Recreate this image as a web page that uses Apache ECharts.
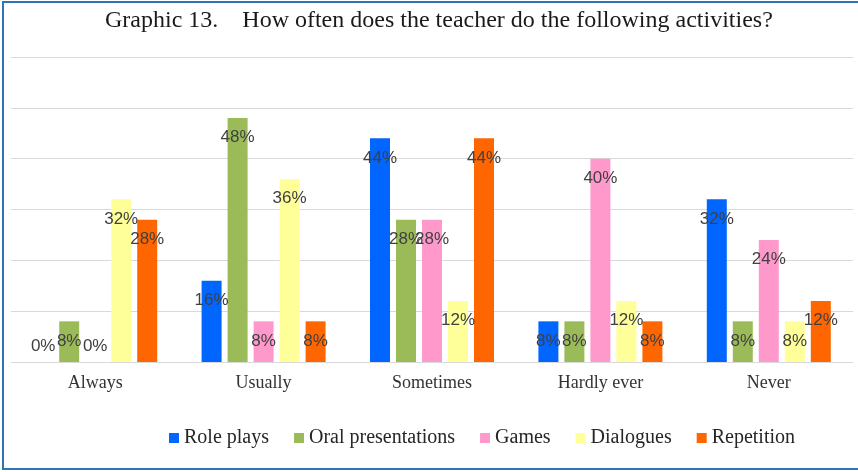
<!DOCTYPE html>
<html>
<head>
<meta charset="utf-8">
<script src="https://cdn.jsdelivr.net/npm/echarts@6/dist/echarts.min.js"></script>
<style>
  html, body { margin: 0; padding: 0; background: #fff; }
  #chart { width: 858px; height: 472px; }
</style>
</head>
<body>
<div id="chart"></div>
<script>
const categories = ['Always', 'Usually', 'Sometimes', 'Hardly ever', 'Never'];
const rolePlays = [0, 16, 44, 8, 32];
const oralPresentations = [8, 48, 28, 8, 8];
const games = [0, 8, 28, 40, 24];
const dialogues = [32, 36, 12, 12, 8];
const repetition = [28, 8, 44, 8, 12];

const serif = '"Liberation Serif", "Times New Roman", serif';
const sans = '"Liberation Sans", Arial, sans-serif';

// zero bars get their label above the axis, like the original
function withLabels(values) {
  return values.map(v => v === 0
    ? { value: v, label: { position: 'top', distance: 7 } }
    : v);
}

function makeSeries(name, values, color) {
  return {
    name: name,
    type: 'bar',
    barWidth: 20,
    barGap: '30%',
    itemStyle: { color: color },
    label: {
      show: true,
      position: 'insideTop',
      distance: 11,
      formatter: '{c}%',
      fontFamily: sans,
      fontSize: 17,
      color: '#404040'
    },
    data: withLabels(values)
  };
}

const chart = echarts.init(document.getElementById('chart'));
chart.setOption({
  animation: false,
  title: {
    text: 'Graphic 13.    How often does the teacher do the following activities?',
    left: 105,
    top: 9,
    padding: 0,
    textStyle: { fontFamily: serif, fontSize: 24, fontWeight: 'normal', color: '#1a1a1a' }
  },
  legend: {
    left: 169,
    top: 428,
    padding: 0,
    icon: 'rect',
    itemWidth: 10,
    itemHeight: 10,
    itemGap: 25,
    textStyle: { fontFamily: serif, fontSize: 20, color: '#262626' }
  },
  grid: { left: 11, right: 5, top: 57, bottom: 110 },
  xAxis: {
    type: 'category',
    data: categories,
    axisLine: { lineStyle: { color: '#d9d9d9', width: 1 } },
    axisTick: { show: false },
    axisLabel: { fontFamily: serif, fontSize: 18, color: '#333', margin: 12 }
  },
  yAxis: {
    type: 'value',
    min: 0,
    max: 60,
    interval: 10,
    axisLabel: { show: false },
    axisLine: { show: false },
    axisTick: { show: false },
    splitLine: { lineStyle: { color: '#d9d9d9', width: 1 } }
  },
  graphic: [{
    type: 'rect',
    shape: { x: 3, y: 2, width: 880, height: 467 },
    style: { fill: null, stroke: '#2e75b6', lineWidth: 2 },
    silent: true
  }],
  series: [
    makeSeries('Role plays', rolePlays, '#0066ff'),
    makeSeries('Oral presentations', oralPresentations, '#9bbb59'),
    makeSeries('Games', games, '#ff99cc'),
    makeSeries('Dialogues', dialogues, '#ffff99'),
    makeSeries('Repetition', repetition, '#ff6600')
  ]
});
</script>
</body>
</html>
